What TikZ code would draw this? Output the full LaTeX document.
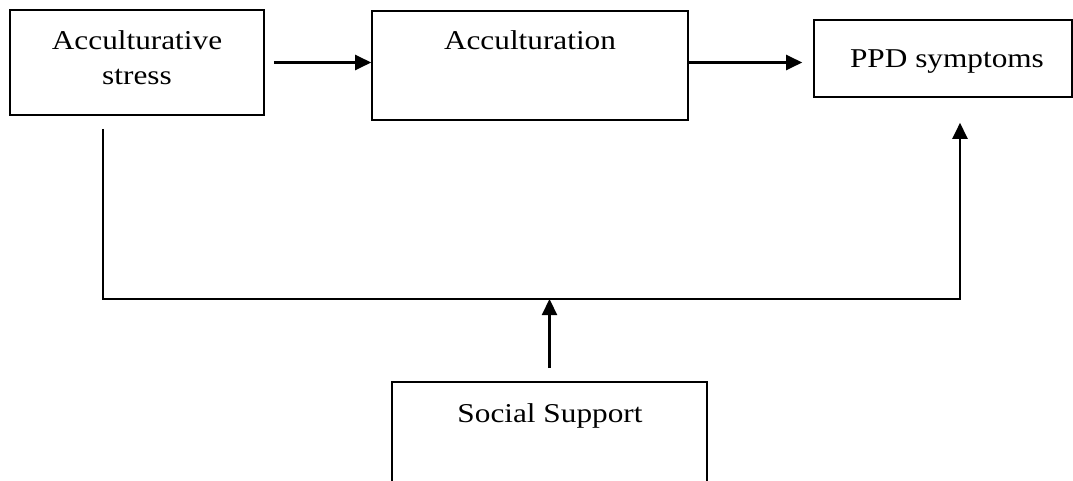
\documentclass[tikz,border=0pt]{standalone}
\usepackage{fontspec}
\setmainfont[FakeStretch=1.15]{Liberation Serif}
\usepackage{tikz}
\usetikzlibrary{arrows.meta}

\tikzset{
  box/.style={draw, line width=1.6pt, rectangle, inner sep=0pt},
  lbl/.style={inner sep=0pt, align=center, font=\fontsize{27.2}{35}\selectfont},
  link/.style={line width=2.2pt, -{Triangle[length=16pt,width=15pt]}}
}

\begin{document}
\begin{tikzpicture}[x=1pt,y=1pt,yscale=-1,xscale=1]
\path[use as bounding box] (0,0) rectangle (1073,481);

%Shape: Rectangle [stress]
\node[box, minimum width=254pt, minimum height=105pt] (stress) at (137,62.5) {};
%Shape: Rectangle [accult]
\node[box, minimum width=316pt, minimum height=109pt] (accult) at (530,65.5) {};
%Shape: Rectangle [ppd]
\node[box, minimum width=258pt, minimum height=77pt] (ppd) at (943,58.5) {};
%Shape: Rectangle [social]
\node[box, minimum width=315pt, minimum height=140pt] (social) at (549.5,452) {};

%Junctions of the moderator line
\coordinate (jl) at (103,299);
\coordinate (jr) at (960,299);

%Straight Lines with arrows
\draw[link] ([xshift=9pt]stress.east) -- (stress.east -| accult.west);
\draw[link] (accult.east |- stress.east) -- ([xshift=-11pt]ppd.west |- stress.east);
\draw[link] ([yshift=13pt]stress.south -| jl) -- (jl) -- (jr) -- ([yshift=25pt]ppd.south -| jr);
\draw[link] ([yshift=-13pt]social.north) -- (social.north |- jl);

% Text Node
\node[lbl, anchor=base] (stressT) at (137,85) {Acculturative\\stress};
% Text Node
\node[lbl, anchor=base] (accultT) at (530,50) {Acculturation};
% Text Node
\node[lbl, anchor=base] (ppdT) at (947,68) {PPD symptoms};
% Text Node
\node[lbl, anchor=base] (socialT) at (550,422) {Social Support};

\end{tikzpicture}
\end{document}
